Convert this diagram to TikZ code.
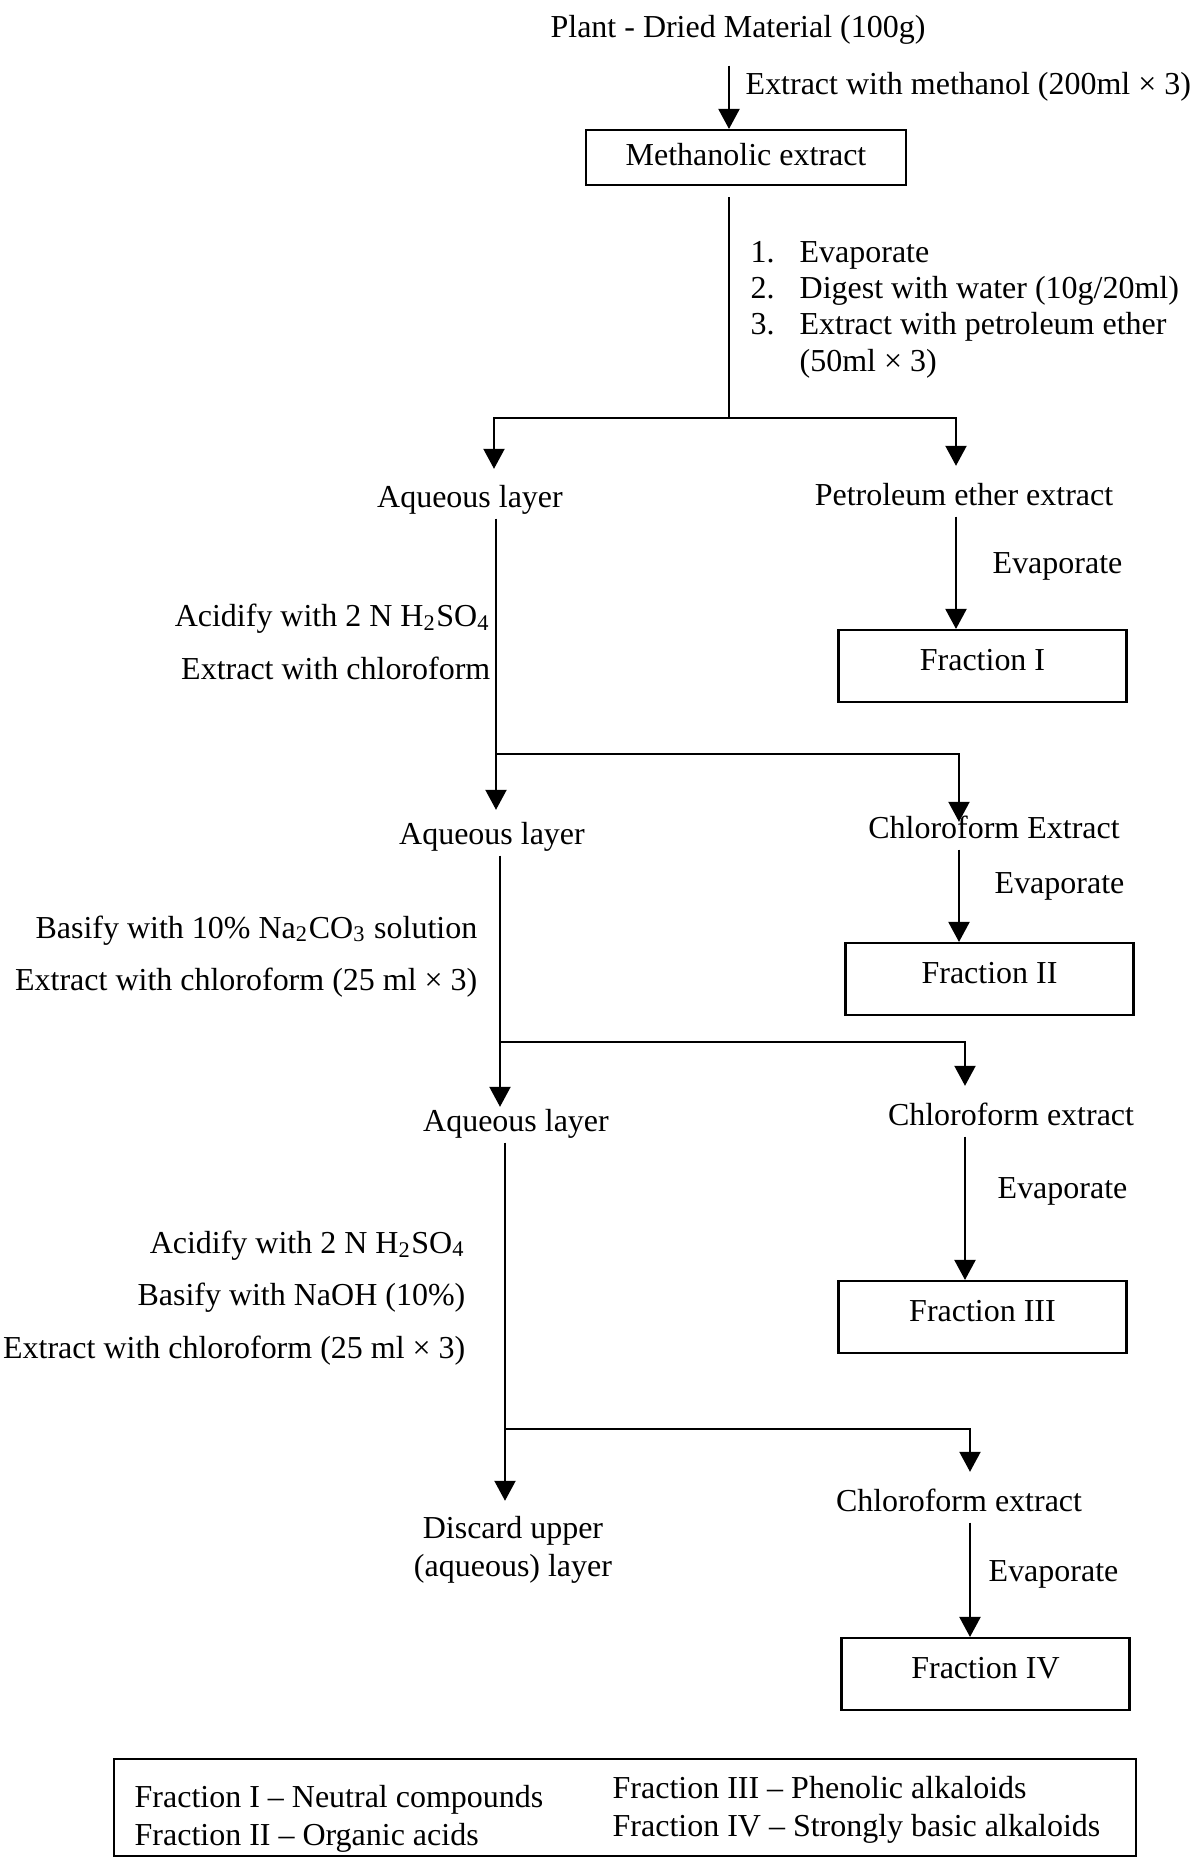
\documentclass[tikz,border=0pt]{standalone}
\usepackage{fontspec}
\setmainfont{Liberation Serif}
\usetikzlibrary{arrows.meta}

\begin{document}
\begin{tikzpicture}[
    y=-1cm,
    every node/.style={font=\fontsize{9.1}{10.9}\selectfont, inner sep=0.04cm},
    txt/.style={text height=0.22cm, text depth=0.07cm},
    cond/.style={anchor=east, align=right, inner sep=0pt, font=\fontsize{9.1}{15.0}\selectfont},
    evap/.style={anchor=west, inner sep=0pt},
    fracbox/.style={draw, line width=0.6pt, minimum width=2.88cm, minimum height=0.72cm,
                    text height=0.22cm, text depth=0.14cm},
    arrow/.style={-{Triangle[length=0.2cm, width=0.21cm]}, line width=0.6pt},
    link/.style={line width=0.6pt}
]
    \useasboundingbox (0,0) rectangle (11.95,18.61);

    % === STARTING MATERIAL ===
    \node[txt] (plant) at (7.38,0.295) {Plant - Dried Material (100g)};
    \node[txt, anchor=west, inner sep=0pt] (methlbl) at (7.45,0.865) {Extract with methanol (200ml × 3)};
    \node[txt, draw, line width=0.6pt, minimum width=3.20cm, minimum height=0.55cm] (meth) at (7.46,1.575) {Methanolic extract};

    % Treatment steps
    \node[anchor=west, inner sep=0pt, font=\fontsize{9.1}{10.35}\selectfont] (steps) at (7.50,3.095) {%
        \begin{tabular}{@{}l@{\hspace{0.25cm}}l@{}}
        1. & Evaporate\\
        2. & Digest with water (10g/20ml)\\
        3. & Extract with petroleum ether\\
           & (50ml × 3)
        \end{tabular}};

    \coordinate (s0) at (7.29,0);
    \coordinate (s1) at (7.29,4.18);
    \draw[arrow, shorten <=0.17cm] (plant.south -| s0) -- (meth.north -| s0);
    \draw[link, shorten <=0.11cm] (meth.south -| s1) -- (s1);

    % === LEVEL 1 ===
    \node[txt] (aq1) at (4.70,4.995) {Aqueous layer};
    \node[txt] (pet) at (9.64,4.975) {Petroleum ether extract};
    \node[evap] (ev1) at (9.92,5.665) {Evaporate};
    \node[fracbox] (frac1) at (9.825,6.66) {Fraction I};
    \node[cond] (cond1) at (4.91,6.42) {Acidify with 2 N H\textsubscript{2}SO\textsubscript{4}\\Extract with chloroform};

    \coordinate (j1L) at (4.94,4.18);
    \coordinate (j1R) at (9.56,4.18);
    \draw[arrow, shorten >=0.115cm] (s1) -- (j1L) -- (j1L |- aq1.north);
    \draw[arrow, shorten >=0.125cm] (s1) -- (j1R) -- (j1R |- pet.north);
    \draw[arrow] (pet.south -| j1R) -- (frac1.north -| j1R);

    % === LEVEL 2 ===
    \node[txt] (aq2) at (4.92,8.365) {Aqueous layer};
    \node[txt] (chl2) at (9.94,8.305) {Chloroform Extract};
    \node[evap] (ev2) at (9.94,8.865) {Evaporate};
    \node[fracbox] (frac2) at (9.895,9.79) {Fraction II};
    \node[cond] (cond2) at (4.78,9.565) {Basify with 10\% Na\textsubscript{2}CO\textsubscript{3} solution\\Extract with chloroform (25 ml × 3)};

    \coordinate (j2L) at (4.96,7.54);
    \coordinate (j2R) at (9.59,7.54);
    \draw[arrow, shorten >=0.075cm] (aq1.south -| j2L) -- (aq2.north -| j2L);
    \draw[arrow, shorten >=-0.105cm] (j2L) -- (j2R) -- (j2R |- chl2.north);
    \draw[arrow] (chl2.south -| j2R) -- (frac2.north -| j2R);

    % === LEVEL 3 ===
    \node[txt] (aq3) at (5.16,11.235) {Aqueous layer};
    \node[txt] (chl3) at (10.11,11.175) {Chloroform extract};
    \node[evap] (ev3) at (9.97,11.915) {Evaporate};
    \node[fracbox] (frac3) at (9.825,13.17) {Fraction III};
    \node[cond] (cond3) at (4.66,12.98) {Acidify with 2 N H\textsubscript{2}SO\textsubscript{4}\\Basify with NaOH (10\%)\\Extract with chloroform (25 ml × 3)};

    \coordinate (j3L) at (5.00,10.42);
    \coordinate (j3R) at (9.65,10.42);
    \draw[arrow, shorten >=-0.025cm] (aq2.south -| j3L) -- (aq3.north -| j3L);
    \draw[arrow, shorten >=0.125cm] (j3L) -- (j3R) -- (j3R |- chl3.north);
    \draw[arrow] (chl3.south -| j3R) -- (frac3.north -| j3R);

    % === LEVEL 4 ===
    \node[align=center, font=\fontsize{9.1}{10.8}\selectfont] (discard) at (5.13,15.495) {Discard upper\\(aqueous) layer};
    \node[txt] (chl4) at (9.59,15.035) {Chloroform extract};
    \node[evap] (ev4) at (9.88,15.745) {Evaporate};
    \node[fracbox] (frac4) at (9.855,16.74) {Fraction IV};

    \coordinate (j4L) at (5.05,14.29);
    \coordinate (j4R) at (9.70,14.29);
    \draw[arrow, shorten >=0.105cm] (aq3.south -| j4L) -- (discard.north -| j4L);
    \draw[arrow, shorten >=0.125cm] (j4L) -- (j4R) -- (j4R |- chl4.north);
    \draw[arrow] (chl4.south -| j4R) -- (frac4.north -| j4R);

    % === LEGEND ===
    \node[draw, line width=0.6pt, minimum width=10.22cm, minimum height=0.97cm, inner sep=0pt] (legend) at (6.25,18.075) {};
    \node[anchor=west, align=left, inner sep=0pt, font=\fontsize{9.1}{10.8}\selectfont] (legL) at (1.34,18.185)
        {Fraction I – Neutral compounds\\Fraction II – Organic acids};
    \node[anchor=west, align=left, inner sep=0pt, font=\fontsize{9.1}{10.8}\selectfont] (legR) at (6.12,18.095)
        {Fraction III – Phenolic alkaloids\\Fraction IV – Strongly basic alkaloids};
\end{tikzpicture}
\end{document}
